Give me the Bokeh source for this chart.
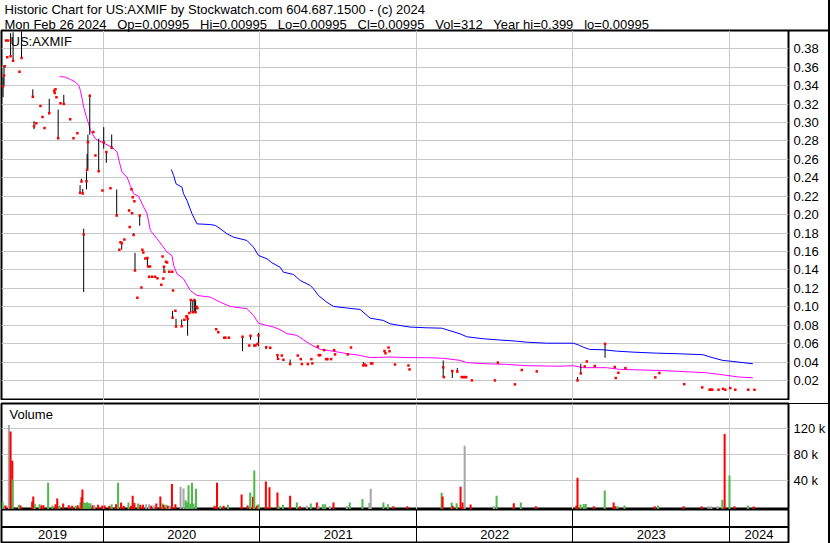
from bokeh.plotting import figure
from bokeh.layouts import column, row
from bokeh.models import (Range1d, FixedTicker, LinearAxis, Title, Label, Span, Grid, Spacer,
                          ColumnDataSource, PrintfTickFormatter, CustomJSTickFormatter)
from bokeh.core.properties import value
from bokeh.embed import file_html
from bokeh.resources import INLINE

# ---------------- texts ----------------
title_line1 = "Historic Chart for US:AXMIF by Stockwatch.com 604.687.1500 - (c) 2024"
title_fields = ["Mon Feb 26 2024", "Op=0.00995", "Hi=0.00995", "Lo=0.00995",
                "Cl=0.00995", "Vol=312", "Year hi=0.399", "lo=0.00995"]
symbol = "US:AXMIF"
volume_title = "Volume"

# ---------------- axes ----------------
years = [2019, 2020, 2021, 2022, 2023, 2024]
year_labels = ["2019", "2020", "2021", "2022", "2023", "2024"]
price_ticks = [0.02, 0.04, 0.06, 0.08, 0.10, 0.12, 0.14, 0.16, 0.18, 0.20,
               0.22, 0.24, 0.26, 0.28, 0.30, 0.32, 0.34, 0.36, 0.38]
volume_ticks = [40000, 80000, 120000]
time_start, time_end = 2019.349, 2024.377      # decimal years
price_min, price_max = -0.0017, 0.3999
vol_min, vol_max = -4150, 158900

# ---------------- daily bars (time in decimal years) ----------------
bar_time = [
    2019.359, 2019.365, 2019.370, 2019.378, 2019.386, 2019.391, 2019.407, 2019.423, 2019.464, 2019.477,
    2019.549, 2019.557, 2019.571, 2019.598, 2019.611, 2019.624, 2019.654, 2019.686, 2019.689, 2019.694,
    2019.700, 2019.711, 2019.726, 2019.747, 2019.788, 2019.809, 2019.834, 2019.851, 2019.860, 2019.868,
    2019.874, 2019.892, 2019.896, 2019.901, 2019.913, 2019.936, 2019.949, 2019.970, 2019.994, 2020.002,
    2020.019, 2020.045, 2020.053, 2020.085, 2020.102, 2020.109, 2020.117, 2020.134, 2020.164, 2020.168,
    2020.179, 2020.183, 2020.187, 2020.193, 2020.198, 2020.202, 2020.217, 2020.232, 2020.243, 2020.249,
    2020.255, 2020.268, 2020.281, 2020.287, 2020.292, 2020.298, 2020.311, 2020.330, 2020.345, 2020.370,
    2020.378, 2020.383, 2020.387, 2020.390, 2020.400, 2020.407, 2020.421, 2020.440, 2020.442, 2020.445,
    2020.460, 2020.464, 2020.500, 2020.517, 2020.530, 2020.534, 2020.538, 2020.549, 2020.558, 2020.571,
    2020.581, 2020.589, 2020.595, 2020.600, 2020.721, 2020.734, 2020.772, 2020.780, 2020.802, 2020.889,
    2020.932, 2020.940, 2020.964, 2020.972, 2020.985, 2020.991, 2021.040, 2021.066, 2021.112, 2021.116,
    2021.140, 2021.150, 2021.193, 2021.242, 2021.261, 2021.268, 2021.306, 2021.329, 2021.335, 2021.370,
    2021.376, 2021.385, 2021.410, 2021.423, 2021.431, 2021.455, 2021.474, 2021.480, 2021.561, 2021.582,
    2021.661, 2021.667, 2021.678, 2021.710, 2021.718, 2021.796, 2021.802, 2021.822, 2021.828, 2021.863,
    2021.949, 2021.956, 2022.171, 2022.175, 2022.229, 2022.261, 2022.289, 2022.299, 2022.310, 2022.318,
    2022.354, 2022.501, 2022.520, 2022.629, 2022.673, 2022.769, 2023.029, 2023.050, 2023.075, 2023.088,
    2023.139, 2023.205, 2023.267, 2023.273, 2023.290, 2023.335, 2023.526, 2023.552, 2023.711, 2023.826,
    2023.873, 2023.881, 2023.890, 2023.930, 2023.958, 2023.973, 2024.005, 2024.037, 2024.120, 2024.160,
]
bar_close = [
    0.339, 0.351, 0.361, 0.389, 0.371, 0.389, 0.372, 0.367, 0.355, 0.370,
    0.328, 0.296, 0.2993, 0.318, 0.306, 0.294, 0.310, 0.3345, 0.332, 0.336,
    0.3275, 0.283, 0.321, 0.320, 0.3036, 0.283, 0.2884, 0.2237, 0.236, 0.223,
    0.1785, 0.2364, 0.2487, 0.2787, 0.329, 0.2896, 0.2643, 0.247, 0.2263, 0.2787,
    0.268, 0.2288, 0.2726, 0.199, 0.162, 0.170, 0.169, 0.173, 0.2045, 0.1865,
    0.2277, 0.2016, 0.219, 0.1778, 0.2146, 0.1394, 0.1099, 0.199, 0.121, 0.162,
    0.1589, 0.1525, 0.153, 0.1437, 0.1325, 0.1437, 0.1325, 0.1325, 0.1311, 0.124,
    0.1547, 0.1306, 0.1436, 0.138, 0.149, 0.148, 0.138, 0.138, 0.088, 0.1177,
    0.0956, 0.0786, 0.0789, 0.0859, 0.0895, 0.0895, 0.0867, 0.0932, 0.1073, 0.094,
    0.1073, 0.094, 0.1001, 0.0983, 0.0757, 0.0725, 0.0665, 0.0665, 0.0665, 0.0675,
    0.058, 0.0685, 0.058, 0.058, 0.0598, 0.069, 0.0562, 0.0555, 0.0474, 0.0435,
    0.0471, 0.0425, 0.0378, 0.0471, 0.0432, 0.0378, 0.0378, 0.0432, 0.0386, 0.0569,
    0.0475, 0.0475, 0.053, 0.0432, 0.0432, 0.0432, 0.053, 0.0483, 0.0483, 0.0558,
    0.0363, 0.0374, 0.0363, 0.0385, 0.0385, 0.052, 0.0496, 0.0558, 0.0518, 0.0374,
    0.0363, 0.032, 0.0343, 0.0237, 0.0303, 0.0297, 0.0237, 0.0237, 0.0237, 0.0237,
    0.0201, 0.0201, 0.0394, 0.0158, 0.0314, 0.0299, 0.0201, 0.0277, 0.0353, 0.0407,
    0.0357, 0.0597, 0.0346, 0.0227, 0.0284, 0.0334, 0.0234, 0.0281, 0.016, 0.0125,
    0.0100, 0.0100, 0.0100, 0.0100, 0.0110, 0.0100, 0.0118, 0.0100, 0.0100, 0.00995,
]
# None = traded at a single price (high = low = close)
N = None
bar_high = [
    0.349, 0.362, N, N, N, N, 0.397, 0.398, N, 0.399,
    0.336, 0.3015, N, N, N, N, 0.3258, N, N, N,
    N, 0.3141, N, 0.330, N, N, N, 0.232, 0.239, 0.228,
    0.1847, 0.2469, 0.266, 0.2867, 0.330, N, N, 0.2824, N, 0.295,
    0.2678, N, 0.287, 0.2273, N, N, N, N, 0.2055, N,
    N, N, N, 0.180, N, 0.1586, N, 0.199, N, N,
    N, N, 0.1538, N, N, N, N, N, N, N,
    N, N, 0.144, N, N, N, N, N, 0.0956, N,
    N, 0.087, 0.0863, N, N, N, 0.0895, N, 0.1075, 0.1075,
    0.1075, 0.1075, N, N, N, N, N, N, 0.0675, 0.0679,
    N, 0.069, N, N, N, 0.0718, 0.0566, 0.0555, 0.0489, N,
    N, N, 0.0428, N, N, N, N, N, N, N,
    N, N, N, N, N, N, N, N, N, N,
    0.040, N, N, N, N, N, N, N, N, N,
    N, N, 0.0418, N, 0.0307, 0.0335, 0.025, N, N, N,
    N, N, N, N, N, N, 0.0238, 0.0382, N, N,
    N, 0.0597, N, N, N, N, N, N, N, N,
    N, N, N, N, 0.0118, N, N, N, N, N,
]
bar_low = [
    0.3275, 0.340, N, N, N, N, 0.372, 0.367, N, 0.370,
    0.328, 0.2928, N, N, N, N, 0.310, N, N, N,
    N, 0.283, N, 0.3196, N, N, N, 0.2237, 0.236, 0.223,
    0.116, 0.2274, 0.2487, 0.2498, 0.2867, N, N, 0.2469, N, 0.2715,
    0.2563, N, 0.2715, 0.1991, N, N, 0.162, N, 0.2045, N,
    N, N, N, 0.1778, N, 0.1394, N, 0.188, N, N,
    N, N, 0.1437, N, N, N, N, N, N, N,
    N, N, 0.1384, N, N, N, N, N, 0.0876, N,
    N, 0.0787, 0.0787, N, N, N, 0.0686, N, 0.094, 0.094,
    0.094, 0.0935, N, N, N, N, N, N, 0.0665, 0.0518,
    N, 0.0643, N, N, N, 0.0573, 0.054, 0.0545, 0.0428, N,
    N, N, 0.0374, N, N, N, N, N, N, N,
    N, N, N, N, N, N, N, N, N, N,
    0.0363, N, N, N, N, N, N, N, N, N,
    N, N, 0.0237, N, 0.0228, 0.0297, 0.0237, N, N, N,
    N, N, N, N, N, N, 0.0194, 0.0273, N, N,
    N, 0.0447, N, N, N, N, N, N, N, N,
    N, N, N, N, 0.0105, N, N, N, N, N,
]

# ---------------- moving averages ----------------
ma_short_time = [
    2019.721, 2019.758, 2019.790, 2019.822, 2019.843, 2019.853, 2019.864, 2019.874, 2019.892, 2019.906,
    2019.917, 2019.949, 2020.002, 2020.056, 2020.088, 2020.102, 2020.119, 2020.151, 2020.172, 2020.193,
    2020.225, 2020.247, 2020.279, 2020.300, 2020.343, 2020.375, 2020.407, 2020.438, 2020.449, 2020.470,
    2020.512, 2020.555, 2020.598, 2020.683, 2020.747, 2020.810, 2020.917, 2020.959, 2020.991, 2021.045,
    2021.087, 2021.129, 2021.172, 2021.236, 2021.278, 2021.332, 2021.385, 2021.470, 2021.555, 2021.640,
    2021.704, 2021.831, 2021.959, 2022.065, 2022.171, 2022.278, 2022.321, 2022.427, 2022.576, 2022.703,
    2022.916, 2023.001, 2023.065, 2023.214, 2023.299, 2023.533, 2023.681, 2023.852, 2023.937, 2024.064,
    2024.149,
]
ma_short_value = [
    0.350, 0.3492, 0.3467, 0.3438, 0.3402, 0.3348, 0.3258, 0.3167, 0.3058, 0.2986,
    0.2914, 0.2823, 0.2776, 0.2732, 0.2678, 0.257, 0.2461, 0.2407, 0.2317, 0.2227,
    0.2201, 0.2118, 0.201, 0.1828, 0.1738, 0.1666, 0.1593, 0.1557, 0.1449, 0.1358,
    0.1304, 0.1177, 0.1123, 0.1105, 0.105, 0.1004, 0.0979, 0.0906, 0.0822, 0.0797,
    0.078, 0.0752, 0.0709, 0.069, 0.0643, 0.0582, 0.0539, 0.0517, 0.0492, 0.0473,
    0.0448, 0.0455, 0.0448, 0.0448, 0.0441, 0.0419, 0.0394, 0.0383, 0.0375, 0.0361,
    0.0355, 0.0361, 0.0339, 0.0339, 0.0321, 0.031, 0.0299, 0.0284, 0.0266, 0.0237,
    0.023,
]
ma_long_time = [
    2020.434, 2020.449, 2020.464, 2020.502, 2020.512, 2020.534, 2020.566, 2020.598, 2020.683, 2020.715,
    2020.747, 2020.789, 2020.831, 2020.917, 2020.959, 2020.991, 2021.045, 2021.076, 2021.129, 2021.150,
    2021.214, 2021.257, 2021.321, 2021.342, 2021.374, 2021.427, 2021.470, 2021.565, 2021.640, 2021.704,
    2021.789, 2021.831, 2021.895, 2021.959, 2022.065, 2022.161, 2022.278, 2022.321, 2022.427, 2022.512,
    2022.640, 2022.703, 2022.831, 2023.001, 2023.033, 2023.065, 2023.107, 2023.192, 2023.277, 2023.384,
    2023.533, 2023.681, 2023.830, 2023.894, 2023.958, 2024.021, 2024.149,
]
ma_long_value = [
    0.249, 0.2425, 0.2335, 0.2298, 0.2227, 0.2154, 0.201, 0.190, 0.1893, 0.1883,
    0.1847, 0.1793, 0.1756, 0.172, 0.1647, 0.1557, 0.1521, 0.1478, 0.143, 0.1376,
    0.1351, 0.1286, 0.1232, 0.1196, 0.1123, 0.105, 0.1004, 0.0985, 0.0971, 0.0877,
    0.0852, 0.0816, 0.0797, 0.078, 0.0772, 0.0768, 0.0707, 0.0675, 0.0653, 0.0642,
    0.0627, 0.0616, 0.0605, 0.0605, 0.0588, 0.0562, 0.0537, 0.0534, 0.0519, 0.0508,
    0.0497, 0.049, 0.048, 0.0447, 0.0418, 0.0407, 0.0382,
]

# ---------------- volume ----------------
vol_time = [
    2019.356, 2019.369, 2019.375, 2019.396, 2019.407, 2019.418, 2019.420, 2019.460, 2019.471, 2019.545,
    2019.552, 2019.562, 2019.592, 2019.605, 2019.617, 2019.647, 2019.675, 2019.694, 2019.705, 2019.719,
    2019.743, 2019.779, 2019.800, 2019.822, 2019.836, 2019.853, 2019.860, 2019.866, 2019.874, 2019.885,
    2019.896, 2019.906, 2019.917, 2019.932, 2019.943, 2019.966, 2019.992, 2020.008, 2020.038, 2020.053,
    2020.081, 2020.094, 2020.113, 2020.130, 2020.160, 2020.177, 2020.187, 2020.198, 2020.222, 2020.236,
    2020.253, 2020.273, 2020.292, 2020.305, 2020.321, 2020.338, 2020.364, 2020.377, 2020.385, 2020.402,
    2020.413, 2020.423, 2020.438, 2020.460, 2020.493, 2020.512, 2020.525, 2020.534, 2020.544, 2020.555,
    2020.566, 2020.576, 2020.592, 2020.710, 2020.726, 2020.747, 2020.768, 2020.796, 2020.883, 2020.921,
    2020.938, 2020.955, 2020.964, 2020.981, 2020.991, 2021.038, 2021.061, 2021.112, 2021.119, 2021.147,
    2021.193, 2021.236, 2021.257, 2021.300, 2021.325, 2021.364, 2021.374, 2021.402, 2021.417, 2021.448,
    2021.470, 2021.555, 2021.574, 2021.655, 2021.699, 2021.708, 2021.789, 2021.817, 2021.852, 2021.942,
    2022.161, 2022.167, 2022.225, 2022.231, 2022.257, 2022.282, 2022.295, 2022.308, 2022.346, 2022.495,
    2022.512, 2022.622, 2022.667, 2022.763, 2023.022, 2023.029, 2023.048, 2023.069, 2023.082, 2023.133,
    2023.203, 2023.260, 2023.269, 2023.284, 2023.329, 2023.522, 2023.543, 2023.707, 2023.822, 2023.866,
    2023.884, 2023.924, 2023.954, 2023.969, 2024.000, 2024.032, 2024.117, 2024.154,
]
vol_value = [
    7000, 2000, 2000, 126000, 116000, 71000, 42000, 3000, 2000, 8000,
    16000, 4000, 4000, 2500, 2500, 37000, 2000, 4000, 12800, 2000,
    5000, 2500, 1500, 1500, 2500, 7000, 14800, 26600, 7000, 6000,
    7000, 5500, 5500, 2500, 2500, 3000, 1500, 2000, 1500, 4000,
    4000, 37000, 6600, 1500, 6600, 1500, 17000, 6000, 5000, 3000,
    3000, 4000, 4000, 1500, 2000, 5000, 16000, 5000, 3000, 3000,
    1500, 1500, 35000, 4000, 31000, 28000, 10000, 7000, 33000, 5000,
    37000, 5000, 27700, 1500, 37000, 1500, 1500, 3000, 19000, 2000,
    22000, 15400, 56000, 2000, 4000, 39000, 30000, 22000, 2000, 3000,
    17000, 6600, 1000, 1500, 5000, 6600, 1500, 4000, 4000, 1000,
    6600, 1000, 6600, 12000, 6000, 27700, 6600, 4000, 1000, 1000,
    21500, 16000, 6600, 1500, 5500, 31000, 6600, 94000, 3400, 1000,
    17000, 5500, 6600, 1000, 2000, 44600, 3400, 4500, 4500, 1000,
    25000, 6600, 1000, 1000, 2000, 1000, 2000, 1000, 1000, 1000,
    1000, 1000, 11000, 112000, 48000, 1000, 2000, 312,
]
# u = close up, d = close down, f = unchanged
vol_dir = [
    "u", "f", "d", "f", "d", "d", "u", "u", "d", "d",
    "d", "u", "u", "d", "d", "u", "u", "d", "d", "u",
    "d", "d", "d", "u", "d", "u", "d", "d", "u", "u",
    "u", "u", "u", "d", "f", "d", "d", "d", "d", "u",
    "d", "u", "d", "d", "u", "d", "d", "d", "u", "d",
    "d", "f", "f", "d", "f", "d", "d", "u", "d", "u",
    "d", "f", "d", "d", "f", "f", "u", "u", "u", "u",
    "u", "u", "u", "d", "d", "u", "d", "u", "d", "d",
    "u", "d", "u", "d", "u", "d", "d", "d", "u", "u",
    "d", "u", "d", "f", "u", "d", "f", "u", "u", "f",
    "d", "f", "u", "u", "f", "f", "u", "u", "d", "d",
    "u", "d", "u", "d", "u", "d", "d", "f", "d", "f",
    "u", "d", "u", "d", "d", "d", "u", "u", "u", "d",
    "u", "d", "d", "u", "u", "d", "u", "d", "d", "f",
    "f", "f", "u", "d", "u", "d", "u", "d",
]

# ---------------- styles / layout ----------------
FONT = "Liberation Sans"
FS = "13px"
GRID = "#c8c8c8"
DIR_COLOR = {"u": "#4fb84f", "d": "#ff0000", "f": "#a6a6a6"}
W = 828                      # + 2px right border strip = 830
BL, BR = 1, 39
H_PRICE, H_VOL, H_YEAR = 400, 109, 34
EDGE_TICK = BR + 2           # length of the column-top border tick
LABEL_GAP = 5

year_bounds = years[1:]
label_x = [(max(y, time_start) + min(y + 1, time_end)) / 2 for y in years]

hi = [c if h is None else h for h, c in zip(bar_high, bar_close)]
lo = [c if l is None else l for l, c in zip(bar_low, bar_close)]

x_range = Range1d(time_start, time_end)


def base(height, y_range, top, bottom):
    p = figure(width=W, height=height, x_range=x_range, y_range=y_range,
               output_backend="svg", toolbar_location=None, title=None,
               x_axis_location=None, y_axis_location=None,
               min_border_left=BL, min_border_right=BR,
               min_border_top=top, min_border_bottom=bottom,
               background_fill_color="white", border_fill_color="white")
    p.outline_line_color = "black"
    p.outline_line_width = 2
    p.outline_line_alpha = 1
    p.grid.visible = False
    return p


def right_axis(ticks, edge, formatter, edge_width):
    # the minor tick at the panel's top edge draws the top border of the label column;
    # the negative standoff keeps the labels next to the frame
    return LinearAxis(ticker=FixedTicker(ticks=ticks, minor_ticks=[edge]), formatter=formatter,
                      axis_line_color=None, major_tick_line_color=None,
                      major_tick_out=0, major_tick_in=0,
                      minor_tick_line_color="black", minor_tick_line_width=edge_width,
                      minor_tick_out=EDGE_TICK, minor_tick_in=0,
                      major_label_standoff=LABEL_GAP - EDGE_TICK,
                      major_label_text_font=FONT, major_label_text_font_size=FS,
                      major_label_text_color="black")


# ---------------- price panel ----------------
pa = base(H_PRICE, Range1d(price_min, price_max), 30, 0)
pa.add_layout(Grid(dimension=0, ticker=FixedTicker(ticks=year_bounds), grid_line_color=GRID))
pa.add_layout(Grid(dimension=1, ticker=FixedTicker(ticks=price_ticks), grid_line_color=GRID))
pa.add_layout(right_axis(price_ticks, price_max - 0.0001,
                         PrintfTickFormatter(format="%.2f"), 2), "right")

sub = "\u00a0\u00a0 ".join(title_fields)
tkw = dict(align="left", offset=3, standoff=-2, text_font=FONT, text_font_size=FS,
           text_font_style="normal", text_color="black")
pa.add_layout(Title(text=sub, **tkw), "above")
pa.add_layout(Title(text=title_line1, **tkw), "above")
pa.add_layout(Label(x=9, y=H_PRICE - 30 - 3.5, x_units="screen", y_units="screen",
                    text=symbol, text_baseline="top", text_font=FONT,
                    text_font_size=FS, text_color="black"))

pa.line(ma_short_time, ma_short_value, line_color="#ff00ff", line_width=1)
pa.line(ma_long_time, ma_long_value, line_color="#0000ff", line_width=1)
src = ColumnDataSource(dict(t=bar_time, hi=hi, lo=lo, cl=bar_close))
pa.segment(x0="t", y0="lo", x1="t", y1="hi", source=src, line_color="black", line_width=1)
pa.scatter(x="t", y="cl", source=src, marker="square", size=2.5,
           fill_color="#ff0000", line_color=None)

# ---------------- volume panel ----------------
pb = base(H_VOL, Range1d(vol_min, vol_max), 3, 0)
pb.add_layout(Grid(dimension=0, ticker=FixedTicker(ticks=year_bounds), grid_line_color=GRID))
pb.add_layout(Grid(dimension=1, ticker=FixedTicker(ticks=volume_ticks), grid_line_color=GRID))
pb.add_layout(right_axis(volume_ticks, vol_max - 100,
                         CustomJSTickFormatter(code="return Math.round(tick/1000) + ' k';"), 1),
              "right")
vsrc = ColumnDataSource(dict(t=vol_time, v=vol_value, c=[DIR_COLOR[d] for d in vol_dir]))
pb.vbar(x="t", top="v", bottom=vol_min, width=0.013, source=vsrc,
        fill_color="c", line_color=None)
pb.add_layout(Label(x=8, y=H_VOL - 3 - 3, x_units="screen", y_units="screen",
                    text=volume_title, text_baseline="top", text_font=FONT,
                    text_font_size=FS, text_color="black"))

# ---------------- year strip ----------------
pc = base(H_YEAR, Range1d(0, 1), 0, 1)
pc.add_layout(Grid(dimension=0, ticker=FixedTicker(ticks=year_bounds),
                   grid_line_color="black", grid_line_width=1))
pc.add_layout(Span(location=0.47, dimension="width", line_color="black", line_width=2))
pc.text(x=label_x, y=[0.23] * len(label_x), text=year_labels, text_align="center",
        text_baseline="middle", text_font=value(FONT), text_font_size=value(FS),
        text_color="black")

edge = Spacer(width=2, height=H_PRICE + H_VOL + H_YEAR, styles={"background-color": "black"})
layout = row(column(pa, pb, pc, spacing=0), edge, spacing=0)
open("out.html", "w").write(file_html(layout, INLINE, title="US:AXMIF"))
